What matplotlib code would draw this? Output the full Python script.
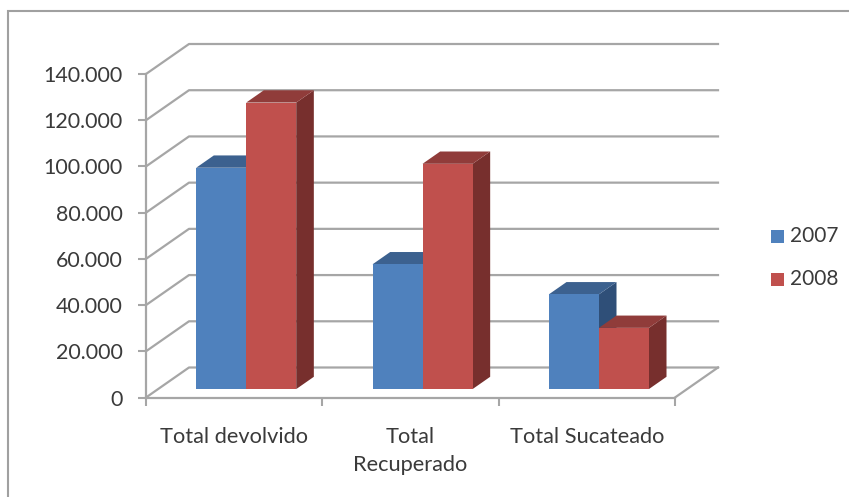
import matplotlib
matplotlib.use("Agg")
import matplotlib.pyplot as plt
from matplotlib.patches import Polygon, Rectangle

categories = ["Total devolvido", "Total\nRecuperado", "Total Sucateado"]
years = ["2007", "2008"]
values_2007 = [95800, 54000, 41000]
values_2008 = [124000, 97500, 26500]
y_ticks = [0, 20000, 40000, 60000, 80000, 100000, 120000, 140000]
y_tick_labels = ["0", "20.000", "40.000", "60.000", "80.000", "100.000", "120.000", "140.000"]

FACE = {"2007": "#4f81bd", "2008": "#c0504d"}
TOP = {"2007": "#3c618f", "2008": "#903c3a"}
SIDE = {"2007": "#2f4f78", "2008": "#772f2d"}
GRID = "#a6a6a6"
TEXT = "#3a3a3a"

W, H = 849, 497
plt.rcParams["font.family"] = ["Lato", "DejaVu Sans"]

fig = plt.figure(figsize=(W / 100, H / 100), dpi=100)
ax = fig.add_axes([146 / W, (H - 397.5) / H, (675 - 146) / W, (397.5 - 74) / H])
ax.set_xlim(0, 3)
ax.set_ylim(0, 140000)
ax.patch.set_visible(False)

# depth of the floor in data units, used to shear everything backwards
depth_x = 43 / (529 / 3)
depth_y = 30 / (323.5 / 140000)

# back wall gridlines and the diagonals joining them to the front axis
for t in y_ticks:
    ax.plot([0, depth_x, 3 + depth_x], [t, t + depth_y, t + depth_y],
            color=GRID, lw=1.6, clip_on=False, zorder=1)
ax.plot([3, 3 + depth_x], [0, depth_y], color=GRID, lw=1.6, clip_on=False, zorder=1)


def draw_bar(x0, width, value, year, z):
    # bar sits between 28% and 69% of the floor depth
    x1 = x0 + width
    fx, fy = 0.28 * depth_x, 0.28 * depth_y
    bx, by = 0.69 * depth_x, 0.69 * depth_y
    ax.add_patch(Polygon([(x1 + fx, fy), (x1 + bx, by), (x1 + bx, value + by), (x1 + fx, value + fy)],
                         fc=SIDE[year], ec="none", clip_on=False, zorder=z))
    ax.add_patch(Polygon([(x0 + fx, value + fy), (x0 + bx, value + by), (x1 + bx, value + by), (x1 + fx, value + fy)],
                         fc=TOP[year], ec="none", clip_on=False, zorder=z))
    ax.add_patch(Rectangle((x0 + fx, fy), width, value, fc=FACE[year], ec="none", clip_on=False, zorder=z + 0.5))


bar_w = 50 / (529 / 3)
for i in range(len(categories)):
    draw_bar(i + 0.5 - bar_w, bar_w, values_2007[i], "2007", 3)
    draw_bar(i + 0.5, bar_w, values_2008[i], "2008", 4)

for side in ["top", "right"]:
    ax.spines[side].set_visible(False)
for side in ["left", "bottom"]:
    ax.spines[side].set_color(GRID)
    ax.spines[side].set_linewidth(1.6)
    ax.spines[side].set_zorder(2)

ax.set_yticks(y_ticks)
ax.set_yticklabels(y_tick_labels)
ax.set_xticks(range(4))
ax.set_xticklabels([])
ax.tick_params(axis="y", length=6, width=1.5, color=GRID, labelcolor=TEXT, labelsize=15.4, pad=11)
ax.tick_params(axis="x", length=5.5, width=1.5, color=GRID)

for i, name in enumerate(categories):
    ax.annotate(name, (i + 0.5, 0), xytext=(0, -21.5), textcoords="offset points",
                ha="center", va="top", fontsize=15.7, color=TEXT, linespacing=1.5)

# legend swatches in figure pixels
for name, y in zip(years, [236, 279]):
    fig.patches.append(Rectangle((771 / W, 1 - (y + 7) / H), 13 / W, 13 / H, fc=FACE[name], ec="none",
                                 transform=fig.transFigure))
    fig.text(790 / W, 1 - y / H, name, fontsize=15, color=TEXT, va="center", ha="left")

# outer chart frame
fig.patches.append(Rectangle((8 / W, -0.02), 1, 1 - 11 / H + 0.02, fc="white", ec="#a0a0a0", lw=1.5,
                             transform=fig.transFigure, zorder=-5))

fig.savefig("out.png", dpi=100)
